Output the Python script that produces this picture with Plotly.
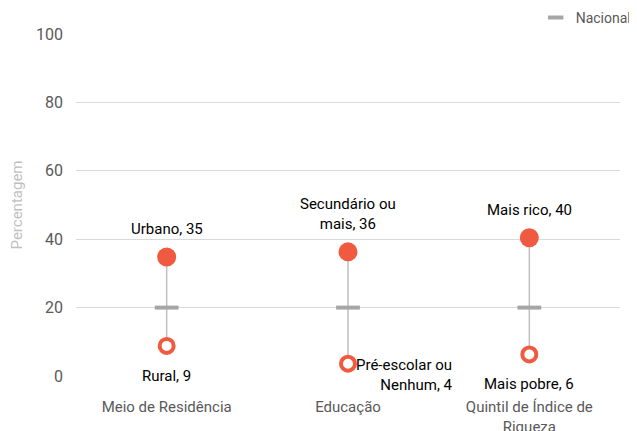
import plotly.graph_objects as go

categories = ["Meio de Residência", "Educação", "Quintil de Índice de<br>Riqueza"]
high_labels = ["Urbano", "Secundário ou<br>mais", "Mais rico"]
high_values = [34.8, 36.3, 40.4]
low_labels = ["Rural", "Pré-escolar ou<br>Nenhum", "Mais pobre"]
low_values = [8.8, 3.6, 6.3]
national = [20, 20, 20]
y_ticks = [0, 20, 40, 60, 80, 100]

ORANGE = "#F05A40"
GREY = "#A6A6A6"
FONT = "Roboto, Arial, sans-serif"

xs = list(range(len(categories)))
fig = go.Figure()

# connecting lines
for i in xs:
    fig.add_trace(go.Scatter(x=[i, i], y=[low_values[i], high_values[i]], mode="lines",
                             line=dict(color="#BFBFBF", width=1.5), showlegend=False,
                             hoverinfo="skip", cliponaxis=False))

fig.add_trace(go.Scatter(x=xs, y=national, mode="markers", name="Nacional", showlegend=False,
                         legendgroup="nac",
                         marker=dict(symbol="line-ew", size=17, line=dict(color=GREY, width=4)),
                         cliponaxis=False))
# legend entry for the national marker (smaller dash, as in the original legend)
fig.add_trace(go.Scatter(x=[None], y=[None], mode="markers", name="Nacional", legendgroup="nac",
                         marker=dict(symbol="line-ew", size=11, line=dict(color=GREY, width=4))))
fig.add_trace(go.Scatter(x=xs, y=high_values, mode="markers", showlegend=False,
                         marker=dict(size=19, color=ORANGE, line=dict(width=0)),
                         cliponaxis=False))
fig.add_trace(go.Scatter(x=xs, y=low_values, mode="markers", showlegend=False,
                         marker=dict(size=14, color="white", line=dict(color=ORANGE, width=4)),
                         cliponaxis=False))

annots = []
for i in xs:
    annots.append(dict(x=i, y=high_values[i], text=f"{high_labels[i]}, {round(high_values[i])}",
                       showarrow=False, yanchor="bottom", yshift=17,
                       font=dict(size=15, color="#000000", family=FONT)))
for i in xs:
    if i == 1:
        annots.append(dict(x=i, y=low_values[i], text=f"{low_labels[i]}, {round(low_values[i])}",
                           showarrow=False, xanchor="left", yanchor="top", xshift=6, yshift=10,
                           align="right", font=dict(size=15, color="#000000", family=FONT)))
    else:
        annots.append(dict(x=i, y=low_values[i], text=f"{low_labels[i]}, {round(low_values[i])}",
                           showarrow=False, yanchor="top", yshift=-19,
                           font=dict(size=15, color="#000000", family=FONT)))

fig.update_layout(
    width=629, height=423,
    margin=dict(l=68, r=17, t=26, b=55, autoexpand=False),
    plot_bgcolor="white", paper_bgcolor="white",
    font=dict(family=FONT, color="#595959"),
    annotations=annots,
    legend=dict(x=0.845, y=1.047, xanchor="left", yanchor="middle", orientation="h",
                font=dict(size=14, color="#595959", family=FONT),
                itemwidth=30, bgcolor="rgba(0,0,0,0)"),
    xaxis=dict(range=[-0.5, 2.5], tickvals=xs, ticktext=categories, showgrid=False,
               zeroline=False, showline=False, ticks="", ticklabelstandoff=20,
               tickfont=dict(size=15, color="#595959", family=FONT)),
    yaxis=dict(range=[0, 100], tickvals=y_ticks, showgrid=True, gridcolor="#D9D9D9",
               gridwidth=1, zeroline=False, showline=False, ticks="", ticklabelstandoff=12,
               tickfont=dict(size=16, color="#595959", family=FONT),
               title=dict(text="Percentagem", font=dict(size=15, color="#BFBFBF", family=FONT),
                          standoff=9)),
    showlegend=True,
)

fig.write_html("out.html")
